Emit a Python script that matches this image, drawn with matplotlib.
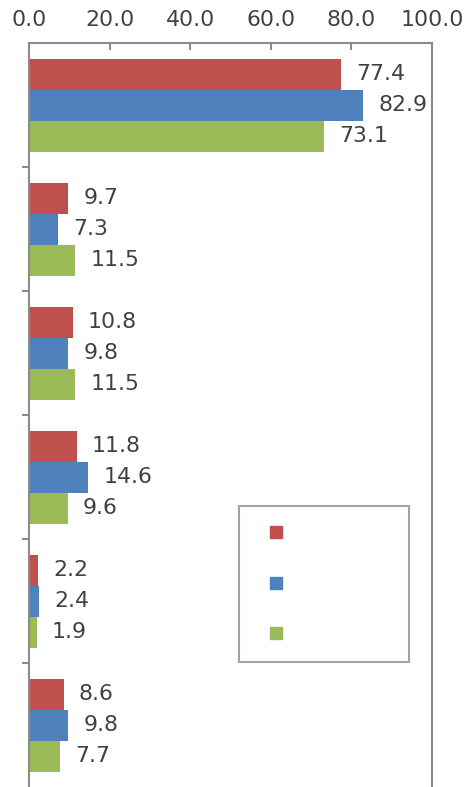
import numpy as np
import matplotlib.pyplot as plt
from matplotlib.lines import Line2D

# groups top to bottom (category names not shown in the chart)
groups = ["1", "2", "3", "4", "5", "6"]
series_names = ["", "", ""]
red_vals = [77.4, 9.7, 10.8, 11.8, 2.2, 8.6]
blue_vals = [82.9, 7.3, 9.8, 14.6, 2.4, 9.8]
green_vals = [73.1, 11.5, 11.5, 9.6, 1.9, 7.7]
x_ticks = [0, 20, 40, 60, 80, 100]

colors = ["#C0504D", "#4F81BD", "#9BBB59"]
txt = "#404040"
spine_c = "#8c8c8c"

plt.rcParams["font.family"] = ["DejaVu Sans"]

fig = plt.figure(figsize=(4.73, 7.87), dpi=100)
ax = fig.add_axes([29 / 473, 0, 403 / 473, 744 / 787])

y = np.arange(len(groups))
h = 0.25
for k, vals in enumerate([red_vals, blue_vals, green_vals]):
    pos = y + (k - 1) * h
    ax.barh(pos, vals, height=h, color=colors[k], label=series_names[k])
    for p, v in zip(pos, vals):
        ax.annotate(f"{v:.1f}", (v, p), xytext=(11, 0), textcoords="offset points",
                    va="center", ha="left", fontsize=15.8, color=txt)

ax.set_xlim(0, 100)
ax.set_ylim(len(groups) - 0.5, -0.5)
ax.xaxis.tick_top()
ax.set_xticks(x_ticks)
ax.set_xticklabels([f"{t:.1f}" for t in x_ticks], fontsize=15.8, color=txt)
ax.tick_params(axis="x", direction="in", length=5, width=1.5, color=spine_c, pad=9)
ax.set_yticks(y[:-1] + 0.5)
ax.set_yticklabels([])
ax.tick_params(axis="y", direction="out", length=5, width=1.5, color=spine_c)
for s in ["top", "left", "right"]:
    ax.spines[s].set_color(spine_c)
    ax.spines[s].set_linewidth(1.5)
ax.spines["bottom"].set_visible(False)

handles = [Line2D([], [], ls="none", marker="s", markersize=8, color=c) for c in colors]
leg = ax.legend(handles, [" ", " ", " "], loc="upper left",
                bbox_to_anchor=(0.521, 0.1707, 0.4218, 0.207), mode="expand",
                fontsize=15, labelspacing=1.45, borderpad=0.85, handlelength=1.9,
                handletextpad=0.5, frameon=True, fancybox=False, borderaxespad=0)
leg.get_frame().set_edgecolor(spine_c)
leg.get_frame().set_linewidth(1.5)

fig.savefig("out.png", dpi=100)
